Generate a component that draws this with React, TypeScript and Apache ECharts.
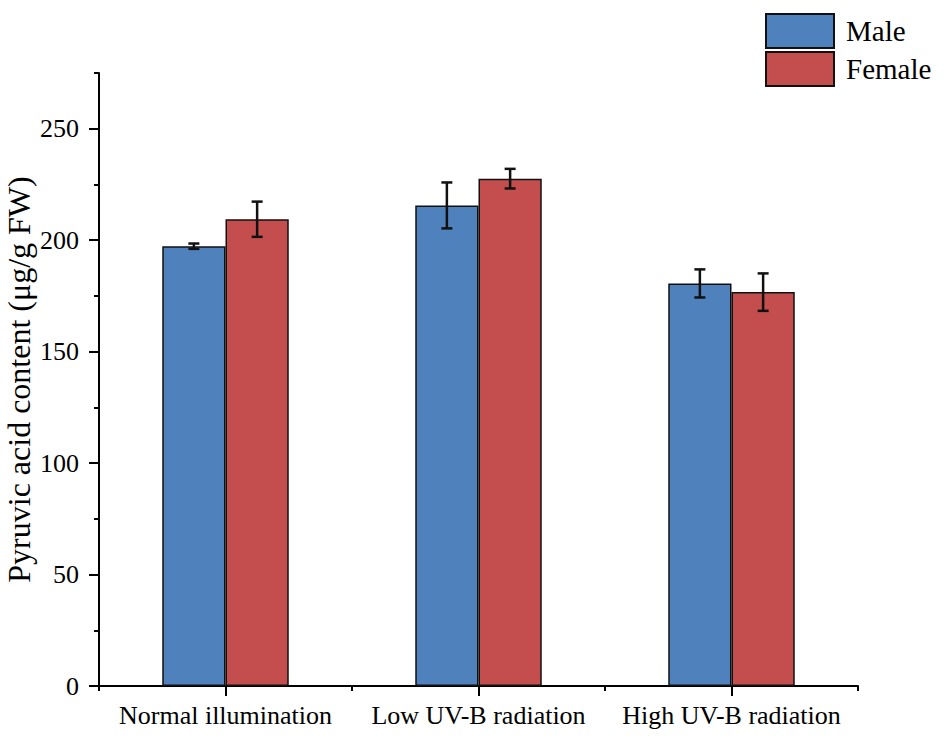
import React, { useEffect, useRef } from "react";
import * as echarts from "echarts";

const categories = ["Normal illumination", "Low UV-B radiation", "High UV-B radiation"];
const maleValues = [197.3, 215.6, 180.6];
const maleErrors = [1.2, 10.3, 6.3];
const femaleValues = [209.4, 227.6, 176.7];
const femaleErrors = [7.9, 4.4, 8.4];
const yTickValues = [0, 50, 100, 150, 200, 250];

const FONT = '"Liberation Serif", "Times New Roman", serif';

export default function App() {
  const ref = useRef<HTMLDivElement>(null);
  useEffect(() => {
    if (!ref.current) return;
    const chart = echarts.init(ref.current, null, { renderer: "svg" });

    const errData: any[] = [];
    categories.forEach((_, i) => {
      errData.push([i, maleValues[i], maleErrors[i], 0]);
      errData.push([i, femaleValues[i], femaleErrors[i], 1]);
    });

    const option: any = {
      animation: false,
      backgroundColor: "#ffffff",
      grid: {
        left: 99,
        right: 87,
        top: 73,
        bottom: 56,
        containLabel: false,
        outerBoundsMode: "none",
      },
      legend: {
        orient: "vertical",
        left: 760,
        top: 8,
        itemWidth: 68,
        itemHeight: 34,
        itemGap: 2,
        icon: "rect",
        data: ["Male", "Female"],
        textStyle: {
          fontFamily: FONT,
          fontSize: 29,
          lineHeight: 34,
          color: "#000",
          padding: [0, 0, 0, 7],
        },
      },
      xAxis: [
        {
          type: "category",
          data: categories,
          position: "bottom",
          axisLine: { show: true, lineStyle: { color: "#000", width: 2 } },
          axisTick: { show: true, alignWithLabel: true, length: 10, lineStyle: { color: "#000", width: 2 } },
          axisLabel: { interval: 0, color: "#000", fontFamily: FONT, fontSize: 26, margin: 16 },
          splitLine: { show: false },
        },
        {
          type: "category",
          data: categories,
          position: "bottom",
          axisLine: { show: false },
          axisTick: { show: true, interval: 0, alignWithLabel: false, length: 5, lineStyle: { color: "#000", width: 2 } },
          axisLabel: { show: false },
          splitLine: { show: false },
        },
      ],
      yAxis: [
        {
          type: "value",
          min: 0,
          max: 275,
          interval: 50,
          position: "left",
          name: "Pyruvic acid content (μg/g FW)",
          nameLocation: "middle",
          nameGap: 64,
          nameMoveOverlap: false,
          nameTextStyle: { fontFamily: FONT, fontSize: 32, color: "#000" },
          axisLine: { show: true, lineStyle: { color: "#000", width: 2 } },
          axisTick: { show: true, length: 10, customValues: yTickValues, lineStyle: { color: "#000", width: 2 } },
          axisLabel: { color: "#000", fontFamily: FONT, fontSize: 26, margin: 20, customValues: yTickValues },
          splitLine: { show: false },
        },
        {
          type: "value",
          min: 0,
          max: 275,
          interval: 25,
          position: "left",
          axisLine: { show: false },
          axisTick: { show: true, length: 5, lineStyle: { color: "#000", width: 2 } },
          axisLabel: { show: false },
          splitLine: { show: false },
        },
      ],
      series: [
        {
          name: "Male",
          type: "bar",
          data: maleValues,
          barGap: "0%",
          barCategoryGap: "50%",
          itemStyle: { color: "#4f81bd", borderColor: "#111", borderWidth: 1.5 },
        },
        {
          name: "Female",
          type: "bar",
          data: femaleValues,
          barGap: "0%",
          barCategoryGap: "50%",
          itemStyle: { color: "#c44e4e", borderColor: "#111", borderWidth: 1.5 },
        },
        {
          type: "custom",
          data: errData,
          z: 10,
          renderItem: (params: any, api: any) => {
            const cat = api.value(0);
            const val = api.value(1);
            const err = api.value(2);
            const s = api.value(3);
            const band = api.size([1, 0])[0];
            const off = (s === 0 ? -1 : 1) * band * 0.125;
            const top = api.coord([cat, val + err]);
            const bot = api.coord([cat, val - err]);
            const x = top[0] + off;
            const cap = 5.5;
            const style = { stroke: "#111", lineWidth: 2.5 };
            return {
              type: "group",
              children: [
                { type: "line", shape: { x1: x, y1: top[1], x2: x, y2: bot[1] }, style },
                { type: "line", shape: { x1: x - cap, y1: top[1], x2: x + cap, y2: top[1] }, style },
                { type: "line", shape: { x1: x - cap, y1: bot[1], x2: x + cap, y2: bot[1] }, style },
              ],
            };
          },
        },
      ],
    };
    chart.setOption(option);
    return () => chart.dispose();
  }, []);

  return (
    <div
      ref={ref}
      style={{ position: "fixed", left: 0, top: 0, width: 945, height: 742, background: "#fff" }}
    />
  );
}
